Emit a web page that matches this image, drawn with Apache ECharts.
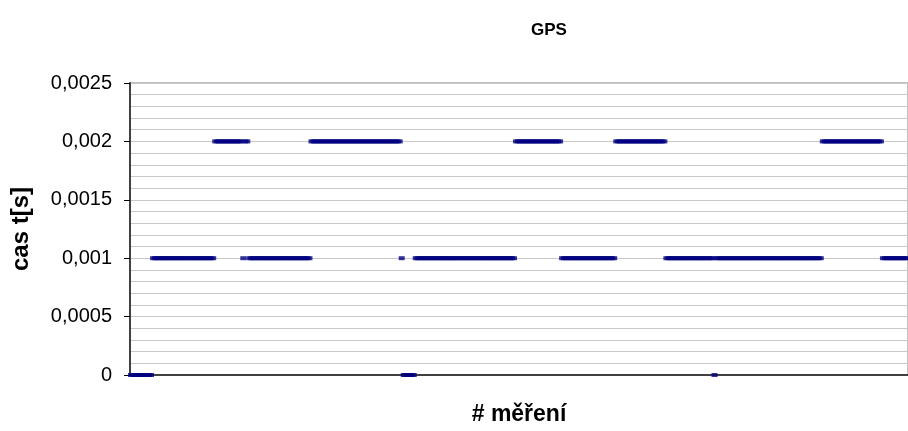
<!DOCTYPE html>
<html>
<head>
<meta charset="utf-8">
<script src="https://cdn.jsdelivr.net/npm/echarts@6/dist/echarts.min.js"></script>
<style>
html,body{margin:0;padding:0;background:#fff;}
#chart{width:908px;height:431px;}
</style>
</head>
<body>
<div id="chart"></div>
<script>
// ---- data ----
var chartTitle = 'GPS';
var xAxisName = '# měření';
var yAxisName = 'cas t[s]';
var yTickLabels = ['0', '0,0005', '0,001', '0,0015', '0,002', '0,0025'];

// measured times t[s], one value per measurement (388 measurements)
var times = [
  0,0,0,0,0,0,0,0,0,0,0,
  0.001,0.001,0.001,0.001,0.001,0.001,0.001,0.001,0.001,0.001,
  0.001,0.001,0.001,0.001,0.001,0.001,0.001,0.001,0.001,0.001,
  0.001,0.001,0.001,0.001,0.001,0.001,0.001,0.001,0.001,0.001,
  0.001,
  0.002,0.002,0.002,0.002,0.002,0.002,0.002,0.002,0.002,0.002,
  0.002,0.002,0.002,0.002,
  0.001,
  0.002,0.002,
  0.001,0.001,0.001,0.001,0.001,0.001,0.001,0.001,0.001,0.001,
  0.001,0.001,0.001,0.001,0.001,0.001,0.001,0.001,0.001,0.001,
  0.001,0.001,0.001,0.001,0.001,0.001,0.001,0.001,0.001,0.001,
  0.001,
  0.002,0.002,0.002,0.002,0.002,0.002,0.002,0.002,0.002,0.002,
  0.002,0.002,0.002,0.002,0.002,0.002,0.002,0.002,0.002,0.002,
  0.002,0.002,0.002,0.002,0.002,0.002,0.002,0.002,0.002,0.002,
  0.002,0.002,0.002,0.002,0.002,0.002,0.002,0.002,0.002,0.002,
  0.002,0.002,0.002,0.002,0.002,
  0.001,
  0,0,0,0,0,0,
  0.001,0.001,0.001,0.001,0.001,0.001,0.001,0.001,0.001,0.001,
  0.001,0.001,0.001,0.001,0.001,0.001,0.001,0.001,0.001,0.001,
  0.001,0.001,0.001,0.001,0.001,0.001,0.001,0.001,0.001,0.001,
  0.001,0.001,0.001,0.001,0.001,0.001,0.001,0.001,0.001,0.001,
  0.001,0.001,0.001,0.001,0.001,0.001,0.001,0.001,0.001,0.001,
  0.002,0.002,0.002,0.002,0.002,0.002,0.002,0.002,0.002,0.002,
  0.002,0.002,0.002,0.002,0.002,0.002,0.002,0.002,0.002,0.002,
  0.002,0.002,0.002,
  0.001,0.001,0.001,0.001,0.001,0.001,0.001,0.001,0.001,0.001,
  0.001,0.001,0.001,0.001,0.001,0.001,0.001,0.001,0.001,0.001,
  0.001,0.001,0.001,0.001,0.001,0.001,0.001,
  0.002,0.002,0.002,0.002,0.002,0.002,0.002,0.002,0.002,0.002,
  0.002,0.002,0.002,0.002,0.002,0.002,0.002,0.002,0.002,0.002,
  0.002,0.002,0.002,0.002,0.002,
  0.001,0.001,0.001,0.001,0.001,0.001,0.001,0.001,0.001,0.001,
  0.001,0.001,0.001,0.001,0.001,0.001,0.001,0.001,0.001,0.001,
  0.001,0.001,0.001,0.001,
  0,
  0.001,0.001,0.001,0.001,0.001,0.001,0.001,0.001,0.001,0.001,
  0.001,0.001,0.001,0.001,0.001,0.001,0.001,0.001,0.001,0.001,
  0.001,0.001,0.001,0.001,0.001,0.001,0.001,0.001,0.001,0.001,
  0.001,0.001,0.001,0.001,0.001,0.001,0.001,0.001,0.001,0.001,
  0.001,0.001,0.001,0.001,0.001,0.001,0.001,0.001,0.001,0.001,
  0.001,0.001,0.001,
  0.002,0.002,0.002,0.002,0.002,0.002,0.002,0.002,0.002,0.002,
  0.002,0.002,0.002,0.002,0.002,0.002,0.002,0.002,0.002,0.002,
  0.002,0.002,0.002,0.002,0.002,0.002,0.002,0.002,0.002,0.002,
  0.001,0.001,0.001,0.001,0.001,0.001,0.001,0.001,0.001,0.001,
  0.001,0.001,0.001
];
var measurements = times.map(function (v, i) { return String(i + 1); });

// ---- chart ----
var chart = echarts.init(document.getElementById('chart'), null, {renderer: 'canvas'});
var font = '"Liberation Sans", Arial, sans-serif';
chart.setOption({
  animation: false,
  backgroundColor: '#ffffff',
  title: {
    text: chartTitle,
    left: 544, top: 17,
    textAlign: 'center',
    textStyle: {fontFamily: font, fontSize: 17, fontWeight: 'bold', color: '#000'}
  },
  grid: {
    left: 130, right: 0, top: 83, bottom: 56,
    outerBoundsMode: 'none',
    containLabel: false,
    show: true, borderColor: '#808080', borderWidth: 1, backgroundColor: 'transparent'
  },
  xAxis: {
    type: 'category',
    data: measurements,
    boundaryGap: true,
    name: xAxisName,
    nameLocation: 'middle',
    nameGap: 28,
    nameTextStyle: {fontFamily: font, fontSize: 23, fontWeight: 'bold', color: '#000'},
    axisLine: {show: true, lineStyle: {color: '#404040', width: 2}},
    axisTick: {show: false},
    axisLabel: {show: false},
    splitLine: {show: false}
  },
  yAxis: {
    type: 'value',
    min: 0, max: 0.0025, interval: 0.0005,
    name: yAxisName,
    nameLocation: 'middle',
    nameGap: 97,
    nameRotate: 90,
    nameTextStyle: {fontFamily: font, fontSize: 24, fontWeight: 'bold', color: '#000'},
    axisLine: {show: true, lineStyle: {color: '#404040', width: 2}},
    axisTick: {show: true, inside: false, length: 6, lineStyle: {color: '#000', width: 1}},
    axisLabel: {
      fontFamily: font, fontSize: 20, color: '#000', margin: 18,
      formatter: function (v, idx) { return yTickLabels[idx]; }
    },
    splitLine: {show: true, lineStyle: {color: '#c8c8c8', width: 1}},
    minorTick: {show: false, splitNumber: 5},
    minorSplitLine: {show: true, lineStyle: {color: '#c8c8c8', width: 1}}
  },
  series: [{
    type: 'scatter',
    data: times,
    symbol: 'rect',
    symbolSize: [6, 4],
    itemStyle: {color: '#000080'},
    clip: false,
    z: 5
  }]
});
</script>
</body>
</html>
